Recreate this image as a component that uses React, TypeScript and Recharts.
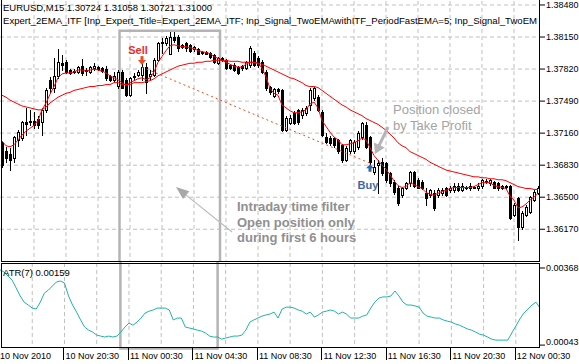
import React from 'react';
import {
  ComposedChart,
  Bar,
  Line,
  XAxis,
  YAxis,
  CartesianGrid,
  ReferenceArea,
  ReferenceLine,
  ReferenceDot,
} from 'recharts';

// EURUSD M15 bars, 10 Nov 2010 16:30 -> 12 Nov 2010 02:00
const opens = [
  1.3706, 1.3698, 1.3695, 1.369, 1.3709, 1.3711, 1.3727, 1.3727, 1.3729, 1.3731,
  1.3727, 1.374, 1.3771, 1.3762, 1.3775, 1.3788, 1.3789, 1.3781, 1.378, 1.3779,
  1.3785, 1.3781, 1.3779, 1.3783, 1.3784, 1.3783, 1.3782, 1.3775, 1.3771, 1.3765,
  1.3779, 1.3771, 1.3755, 1.3774, 1.3776, 1.3776, 1.3784, 1.3775, 1.3776, 1.3791,
  1.3809, 1.3809, 1.3798, 1.3815, 1.3815, 1.3807, 1.3809, 1.3807, 1.3803, 1.3803,
  1.38, 1.38, 1.3799, 1.3796, 1.3788, 1.3793, 1.3791, 1.3786, 1.3786, 1.3784,
  1.3785, 1.3783, 1.3786, 1.3799, 1.3793, 1.3789, 1.3779, 1.3764, 1.3754, 1.3761,
  1.376, 1.3719, 1.3726, 1.3737, 1.374, 1.3735, 1.3737, 1.3745, 1.3752, 1.3753,
  1.3738, 1.3712, 1.3711, 1.3711, 1.3709, 1.3704, 1.3688, 1.3698, 1.3698, 1.3702,
  1.3712, 1.3724, 1.3712, 1.3676, 1.3683, 1.3686, 1.3685, 1.3675, 1.3666, 1.366,
  1.3652, 1.366, 1.3665, 1.3676, 1.3668, 1.3666, 1.3654, 1.3652, 1.3654, 1.3652,
  1.3654, 1.3659, 1.3657, 1.3657, 1.3662, 1.3657, 1.366, 1.3659, 1.366, 1.3659,
  1.3662, 1.3667, 1.3665, 1.3666, 1.3665, 1.3662, 1.3662, 1.3662, 1.3632, 1.3649,
  1.3619, 1.3632, 1.3635, 1.3647, 1.3654,
];
const highs = [
  1.3708, 1.3702, 1.3701, 1.3713, 1.3719, 1.3729, 1.3742, 1.374, 1.3738, 1.3734,
  1.3742, 1.3762, 1.3774, 1.3793, 1.3803, 1.3796, 1.3791, 1.3782, 1.3782, 1.3785,
  1.3792, 1.3783, 1.3785, 1.3788, 1.3785, 1.3784, 1.3785, 1.3776, 1.3779, 1.3781,
  1.3781, 1.3773, 1.3774, 1.3778, 1.3781, 1.3788, 1.3788, 1.3781, 1.3793, 1.381,
  1.3814, 1.3816, 1.382, 1.382, 1.3817, 1.3808, 1.381, 1.3808, 1.3806, 1.3804,
  1.3801, 1.3801, 1.38, 1.3797, 1.3794, 1.3794, 1.3792, 1.3787, 1.3788, 1.3785,
  1.3786, 1.379, 1.3806, 1.3801, 1.3795, 1.3791, 1.3781, 1.3765, 1.3763, 1.3762,
  1.3761, 1.3734, 1.3735, 1.3739, 1.3741, 1.3742, 1.3744, 1.3762, 1.3764, 1.3755,
  1.374, 1.3716, 1.3713, 1.3712, 1.371, 1.3705, 1.3703, 1.371, 1.3709, 1.3718,
  1.3727, 1.3727, 1.3713, 1.3688, 1.3688, 1.369, 1.3686, 1.3676, 1.3668, 1.3662,
  1.3661, 1.3666, 1.3677, 1.3677, 1.367, 1.3668, 1.3659, 1.3658, 1.3657, 1.3659,
  1.366, 1.3661, 1.3662, 1.3665, 1.3665, 1.3665, 1.3662, 1.3665, 1.3662, 1.3665,
  1.3669, 1.3669, 1.3669, 1.3667, 1.3666, 1.3663, 1.3663, 1.3663, 1.3644, 1.365,
  1.3636, 1.3642, 1.3651, 1.3657, 1.3662,
];
const lows = [
  1.3681, 1.3686, 1.3678, 1.3686, 1.3703, 1.3709, 1.3714, 1.3724, 1.3721, 1.3721,
  1.3714, 1.3738, 1.3758, 1.3758, 1.3773, 1.3781, 1.3778, 1.3777, 1.3778, 1.3778,
  1.3776, 1.3776, 1.3778, 1.3781, 1.3781, 1.3779, 1.3771, 1.377, 1.3769, 1.3763,
  1.3762, 1.3754, 1.3754, 1.3771, 1.3775, 1.3771, 1.3757, 1.3771, 1.3775, 1.379,
  1.3799, 1.3807, 1.3797, 1.381, 1.3801, 1.3804, 1.3801, 1.38, 1.3801, 1.3797,
  1.3798, 1.3797, 1.3793, 1.3788, 1.3787, 1.379, 1.3782, 1.3782, 1.378, 1.3777,
  1.3781, 1.3782, 1.3784, 1.3785, 1.3784, 1.3778, 1.376, 1.3756, 1.3753, 1.3757,
  1.3718, 1.3718, 1.3725, 1.3725, 1.3725, 1.3732, 1.3735, 1.374, 1.375, 1.3739,
  1.3713, 1.3706, 1.3704, 1.3702, 1.3696, 1.3686, 1.3687, 1.3696, 1.3696, 1.37,
  1.371, 1.3701, 1.3684, 1.3674, 1.3654, 1.3673, 1.3666, 1.3662, 1.3653, 1.3642,
  1.365, 1.3658, 1.3662, 1.3661, 1.3659, 1.3658, 1.3642, 1.365, 1.3637, 1.365,
  1.3652, 1.3651, 1.3655, 1.3655, 1.3656, 1.3656, 1.3658, 1.3657, 1.3659, 1.3657,
  1.366, 1.3665, 1.3663, 1.3659, 1.3657, 1.3658, 1.366, 1.3628, 1.3631, 1.3606,
  1.3617, 1.3631, 1.3634, 1.3646, 1.3653,
];
const closes = [
  1.3683, 1.369, 1.3688, 1.3712, 1.3717, 1.3727, 1.3725, 1.3728, 1.3724, 1.3724,
  1.374, 1.376, 1.3762, 1.3775, 1.3789, 1.3786, 1.3779, 1.3778, 1.3779, 1.3784,
  1.3778, 1.378, 1.3784, 1.3785, 1.3782, 1.378, 1.3773, 1.3771, 1.3775, 1.3779,
  1.3763, 1.3755, 1.3773, 1.3775, 1.3779, 1.3784, 1.3769, 1.3777, 1.3791, 1.3809,
  1.381, 1.3814, 1.3815, 1.3812, 1.3804, 1.3805, 1.3804, 1.3801, 1.3805, 1.3798,
  1.3799, 1.3798, 1.3794, 1.3789, 1.3793, 1.3791, 1.3783, 1.3783, 1.3781, 1.3778,
  1.3783, 1.3789, 1.3804, 1.3786, 1.3786, 1.3779, 1.3762, 1.3758, 1.3761, 1.3759,
  1.3719, 1.3732, 1.3732, 1.3726, 1.3727, 1.374, 1.3742, 1.376, 1.3762, 1.374,
  1.3714, 1.3707, 1.3706, 1.3704, 1.3698, 1.3688, 1.3701, 1.3709, 1.3707, 1.3716,
  1.3726, 1.3702, 1.3686, 1.3681, 1.3685, 1.3675, 1.3668, 1.3665, 1.3655, 1.3644,
  1.366, 1.3665, 1.3676, 1.3662, 1.366, 1.366, 1.3649, 1.3657, 1.3639, 1.3657,
  1.3657, 1.3652, 1.366, 1.3662, 1.3657, 1.3662, 1.3661, 1.3662, 1.3661, 1.3662,
  1.3668, 1.3666, 1.3668, 1.366, 1.3659, 1.3659, 1.3661, 1.3629, 1.3642, 1.3619,
  1.3634, 1.364, 1.365, 1.3655, 1.3659,
];
// fast EMA(5) and slow EMA
const emaFast = [
  1.3708, 1.3703, 1.3702, 1.3704, 1.3709, 1.3714, 1.3718, 1.3721, 1.3724, 1.3729,
  1.374, 1.3747, 1.3756, 1.3764, 1.3773, 1.3777, 1.3778, 1.3778, 1.3779, 1.3781,
  1.3781, 1.378, 1.3781, 1.3782, 1.3781, 1.378, 1.3778, 1.3775, 1.3773, 1.3771,
  1.3768, 1.3765, 1.3768, 1.377, 1.3772, 1.3773, 1.3771, 1.3773, 1.3779, 1.3789,
  1.3795, 1.3801, 1.3806, 1.3807, 1.3806, 1.3805, 1.3805, 1.3804, 1.3803, 1.3801,
  1.38, 1.3799, 1.3798, 1.3795, 1.3793, 1.3791, 1.3789, 1.3787, 1.3785, 1.3784,
  1.3784, 1.3787, 1.3789, 1.3789, 1.3788, 1.3783, 1.3774, 1.3762, 1.3757, 1.3755,
  1.3745, 1.3742, 1.3739, 1.3737, 1.3737, 1.3738, 1.374, 1.3746, 1.3748, 1.3742,
  1.3729, 1.3723, 1.3717, 1.3712, 1.3709, 1.3704, 1.3704, 1.3705, 1.3706, 1.3708,
  1.3711, 1.3709, 1.3701, 1.3693, 1.3688, 1.3683, 1.3679, 1.3673, 1.3667, 1.3662,
  1.366, 1.3661, 1.3665, 1.3663, 1.3661, 1.3659, 1.3655, 1.3653, 1.3652, 1.3654,
  1.3656, 1.3657, 1.3659, 1.366, 1.366, 1.366, 1.366, 1.366, 1.3661, 1.3663,
  1.3665, 1.3665, 1.3665, 1.3662, 1.3661, 1.366, 1.3659, 1.3651, 1.3647, 1.3639,
  1.364, 1.3643, 1.3647, 1.365, 1.3654,
];
const emaSlow = [
  1.3755, 1.3753, 1.375, 1.3748, 1.3746, 1.3744, 1.3743, 1.3742, 1.3741, 1.374,
  1.374, 1.3743, 1.3747, 1.375, 1.3753, 1.3755, 1.3757, 1.3758, 1.376, 1.3761,
  1.3762, 1.3763, 1.3764, 1.3764, 1.3765, 1.3765, 1.3766, 1.3766, 1.3768, 1.3768,
  1.3766, 1.3766, 1.3766, 1.3768, 1.3768, 1.3768, 1.3769, 1.377, 1.3772, 1.3775,
  1.3777, 1.3779, 1.3781, 1.3783, 1.3785, 1.3786, 1.3787, 1.3788, 1.3788, 1.3789,
  1.3789, 1.379, 1.379, 1.3791, 1.3791, 1.3791, 1.3791, 1.379, 1.379, 1.379,
  1.3789, 1.3789, 1.3789, 1.3789, 1.3788, 1.3787, 1.3785, 1.3783, 1.3781, 1.3779,
  1.3777, 1.3775, 1.3773, 1.3772, 1.377, 1.3768, 1.3765, 1.3764, 1.3764, 1.3763,
  1.376, 1.3757, 1.3754, 1.3751, 1.3748, 1.3745, 1.3743, 1.374, 1.3738, 1.3736,
  1.3734, 1.3731, 1.3729, 1.3727, 1.3725, 1.3722, 1.3719, 1.3715, 1.3711, 1.3706,
  1.3703, 1.3701, 1.3697, 1.3695, 1.3693, 1.3691, 1.3689, 1.3686, 1.3684, 1.3682,
  1.368, 1.3678, 1.3677, 1.3676, 1.3675, 1.3674, 1.3673, 1.3672, 1.3671, 1.3671,
  1.367, 1.367, 1.3669, 1.3669, 1.3668, 1.3668, 1.3667, 1.3665, 1.3663, 1.3661,
  1.366, 1.3659, 1.3659, 1.3658, 1.3658,
];
const atr = [
  0.0036, 0.00351, 0.00334, 0.00317, 0.00284, 0.0025, 0.00224, 0.00212, 0.00199, 0.00195,
  0.00224, 0.00262, 0.00275, 0.00292, 0.00309, 0.00313, 0.00305, 0.0025, 0.00212, 0.00182,
  0.00149, 0.00119, 0.00106, 0.00098, 0.00085, 0.00081, 0.00077, 0.00081, 0.00077, 0.00081,
  0.00098, 0.00119, 0.00136, 0.00127, 0.0014, 0.00157, 0.00178, 0.00186, 0.00191, 0.00199,
  0.00199, 0.00199, 0.00191, 0.00149, 0.00157, 0.00157, 0.00119, 0.00115, 0.00111, 0.00106,
  0.00102, 0.00094, 0.00081, 0.00077, 0.00077, 0.00068, 0.00073, 0.00077, 0.00081, 0.00081,
  0.00085, 0.00106, 0.0014, 0.00149, 0.00157, 0.00165, 0.0017, 0.00174, 0.00182, 0.00157,
  0.00195, 0.00203, 0.00203, 0.00199, 0.00191, 0.00186, 0.00174, 0.00182, 0.00161, 0.0017,
  0.00182, 0.00186, 0.00191, 0.00186, 0.00174, 0.00182, 0.00174, 0.00157, 0.00157, 0.00157,
  0.00165, 0.0017, 0.00199, 0.00224, 0.00241, 0.00246, 0.00246, 0.0025, 0.00271, 0.0025,
  0.00224, 0.00212, 0.00212, 0.00208, 0.00203, 0.00178, 0.00165, 0.00161, 0.00157, 0.00157,
  0.00149, 0.00144, 0.0014, 0.00132, 0.00127, 0.00119, 0.00111, 0.00106, 0.00098, 0.00089,
  0.00085, 0.00077, 0.00068, 0.00064, 0.00064, 0.00064, 0.00064, 0.00094, 0.00123, 0.00153,
  0.00178, 0.00195, 0.00212, 0.00224, 0.00199,
];

// the trade: sell entry and the take-profit buy
const sellBar = 35;
const sellPrice = 1.3784;
const buyBar = 92;
const buyPrice = 1.3685;

const priceTicks = [1.3848, 1.3815, 1.3782, 1.3749, 1.3716, 1.3683, 1.365, 1.3617];
const atrTicks = [0.00368, 0.00043];
const gridTicks = [8, 16, 24, 32, 40, 48, 56, 64, 72, 80, 88, 96, 104, 112, 120, 128];
const timeTicks = [0, 16, 32, 48, 64, 80, 96, 112, 128];
const timeLabels = [
  '10 Nov 2010',
  '10 Nov 20:30',
  '11 Nov 00:30',
  '11 Nov 04:30',
  '11 Nov 08:30',
  '11 Nov 12:30',
  '11 Nov 16:30',
  '11 Nov 20:30',
  '12 Nov 00:30',
];

const FONT = '"Liberation Sans", Arial, sans-serif';
const BOX = '#b4b4b4';

const data = opens.map((o, i) => ({
  i,
  o,
  h: highs[i],
  l: lows[i],
  c: closes[i],
  fast: emaFast[i],
  slow: emaSlow[i],
  atr: atr[i],
  trade: i === sellBar ? sellPrice : i === buyBar ? buyPrice : null,
}));

const Candle = (props: any) => {
  const { x, y, width, height, payload } = props;
  const { o, h, l, c } = payload;
  const ratio = h === l ? 0 : height / (h - l);
  const toY = (p: number) => y + (h - p) * ratio;
  const cx = Math.floor(x + width / 2 + 0.01);
  const yH = Math.round(toY(h));
  const yL = Math.round(toY(l));
  const yTop = Math.round(toY(Math.max(o, c)));
  const yBot = Math.round(toY(Math.min(o, c)));
  const up = c >= o;
  return (
    <g>
      <line x1={cx + 0.5} x2={cx + 0.5} y1={yH} y2={yL + 1} stroke="#000" strokeWidth={1} />
      {up ? (
        <rect x={cx - 0.5} y={yTop + 0.5} width={2} height={Math.max(yBot - yTop, 0)} fill="#fff" stroke="#000" strokeWidth={1} />
      ) : (
        <rect x={cx - 1} y={yTop} width={3} height={Math.max(yBot - yTop + 1, 1)} fill="#000" />
      )}
    </g>
  );
};

// time filter box, upper part (main window) and lower part (ATR window)
const BoxTop = (p: any) => (
  <path d={`M${p.x - 0.5},${p.y + p.height + 3} V${p.y} H${p.x + p.width} V${p.y + p.height + 3}`} fill="none" stroke={BOX} strokeWidth={2.5} />
);
const BoxBottom = (p: any) => (
  <path d={`M${p.x - 0.5},${p.y - 3} V${p.y + p.height + 1.5} H${p.x + p.width} V${p.y - 3}`} fill="none" stroke={BOX} strokeWidth={2.5} />
);

const arrowShape =
  (w: number, head: number, half: number, color: string, headColor: string, d1: number, d2: number) => (props: any) => {
    const x1 = props.x1 + d1;
    const x2 = props.x2 + d2;
    const { y1, y2 } = props;
    const dx = x2 - x1;
    const dy = y2 - y1;
    const len = Math.hypot(dx, dy) || 1;
    const ux = dx / len;
    const uy = dy / len;
    const bx = x2 - ux * head;
    const by = y2 - uy * head;
    const px = -uy * half;
    const py = ux * half;
    return (
      <g>
        <line x1={x1} y1={y1} x2={bx + ux * 2} y2={by + uy * 2} stroke={color} strokeWidth={w} />
        <polygon points={`${x2},${y2} ${bx + px},${by + py} ${bx - px},${by - py}`} fill={headColor} />
      </g>
    );
  };

const noteShape = (lines: string[], bold: boolean, color: string, lh: number, dx: number) => (props: any) => (
  <text fontSize={13} fontWeight={bold ? 'bold' : 'normal'} fill={color} fontFamily={FONT}>
    {lines.map((t, k) => (
      <tspan key={k} x={props.cx + dx} y={props.cy + k * lh}>
        {t}
      </tspan>
    ))}
  </text>
);

const SellMark = ({ cx, cy }: any) => (
  <g>
    <rect x={cx - 1.5} y={cy - 11} width={3} height={4.5} fill="#ef4a22" />
    <polygon points={`${cx - 4},${cy - 7} ${cx + 4},${cy - 7} ${cx},${cy - 2}`} fill="#ef4a22" />
    <text x={cx - 4} y={cy - 13} textAnchor="middle" fontSize={11} fontWeight="bold" fill="#ee2b2b" fontFamily={FONT}>
      Sell
    </text>
  </g>
);

const BuyMark = ({ cx, cy }: any) => (
  <g>
    <polygon points={`${cx},${cy + 1} ${cx - 4},${cy + 5} ${cx + 4},${cy + 5}`} fill="#2e64b0" />
    <rect x={cx - 1.5} y={cy + 4.5} width={3} height={4} fill="#2e64b0" />
    <text x={cx - 2} y={cy + 26} textAnchor="middle" fontSize={11} fontWeight="bold" fill="#3a6aa6" fontFamily={FONT}>
      Buy
    </text>
  </g>
);

const TimeTick = (props: any) => {
  const { x, y, payload } = props;
  const k = timeTicks.indexOf(payload.value);
  if (k < 0) return <g />;
  return (
    <g>
      {k > 0 && <line x1={Math.round(x) - 0.5} x2={Math.round(x) - 0.5} y1={y} y2={y + 13} stroke="#000" />}
      <text x={k > 0 ? x + 1 : x} y={y + 12} fontSize={9} fontFamily={FONT} fill="#000">
        {timeLabels[k]}
      </text>
    </g>
  );
};

const AtrTick = (props: any) => {
  const { x, y, payload } = props;
  const bottom = payload.value < 0.001;
  return (
    <text x={x} y={bottom ? y : y + 3} fontSize={9} fontFamily={FONT} fill="#000">
      {payload.value.toFixed(5)}
    </text>
  );
};

const frame: React.CSSProperties = {
  position: 'absolute',
  boxSizing: 'border-box',
  pointerEvents: 'none',
};

export default function App() {
  return (
    <div style={{ position: 'absolute', left: 0, top: 0, width: 579, height: 364, background: '#fff', overflow: 'hidden' }}>
      <div style={{ position: 'absolute', left: 0, top: 0 }}>
        <ComposedChart width={579} height={262} data={data} margin={{ top: 1, right: 0, bottom: 1, left: 0 }} barCategoryGap={0} barGap={0}>
          <CartesianGrid stroke="#c0c0c0" strokeDasharray="4 3" verticalValues={gridTicks} horizontalValues={priceTicks} />
          <XAxis dataKey="i" type="category" ticks={gridTicks} interval={0} hide />
          <YAxis
            orientation="right"
            domain={[1.35843, 1.38521]}
            ticks={priceTicks}
            interval={0}
            width={39}
            axisLine={false}
            tickLine={{ stroke: '#000' }}
            tickSize={5}
            tickMargin={1}
            tick={{ fill: '#000', fontSize: 9, fontFamily: FONT }}
            tickFormatter={(v: number) => v.toFixed(5)}
            allowDataOverflow
          />
          <ReferenceArea x1={30} x2={54} y1={1.38215} shape={BoxTop} ifOverflow="visible" />
          <Bar dataKey={(d: any) => [d.l, d.h]} shape={Candle} isAnimationActive={false} />
          <Line type="linear" dataKey="slow" stroke="#ff0000" strokeWidth={1} dot={false} isAnimationActive={false} />
          <Line type="linear" dataKey="fast" stroke="#ff0000" strokeWidth={1} dot={false} isAnimationActive={false} />
          <Line type="linear" dataKey="trade" stroke="#ef4a22" strokeWidth={1} strokeDasharray="2 3" connectNulls dot={false} isAnimationActive={false} />
          <ReferenceLine
            segment={[{ x: 58, y: 1.36142 }, { x: 44, y: 1.36605 }]}
            shape={arrowShape(1.2, 13, 5, '#bcbcbc', '#a8a8a8', -2, -2)}
          />
          <ReferenceLine
            segment={[{ x: 97, y: 1.37223 }, { x: 93, y: 1.36945 }]}
            shape={arrowShape(3, 10, 6, BOX, BOX, -2, 1)}
          />
          <ReferenceDot x={sellBar} y={sellPrice} shape={SellMark} />
          <ReferenceDot x={buyBar} y={buyPrice} shape={BuyMark} />
          <ReferenceDot x={98} y={1.37352} shape={noteShape(['Position closed', 'by Take Profit'], false, '#a4a4a4', 16, -1)} />
          <ReferenceDot
            x={59}
            y={1.36353}
            shape={noteShape(['Intraday time filter', 'Open position only', 'during first 6 hours'], true, '#909090', 15.5, -1)}
          />
        </ComposedChart>
      </div>
      <div style={{ position: 'absolute', left: 0, top: 262 }}>
        <ComposedChart width={579} height={102} data={data} margin={{ top: 1, right: 0, bottom: 0, left: 0 }}>
          <CartesianGrid stroke="#c0c0c0" strokeDasharray="4 3" horizontal={false} verticalValues={gridTicks} />
          <XAxis
            dataKey="i"
            type="category"
            ticks={[0, ...gridTicks]}
            interval={0}
            height={17}
            axisLine={false}
            tickLine={false}
            tickSize={0}
            tickMargin={0}
            tick={TimeTick}
          />
          <YAxis
            orientation="right"
            domain={[0.00035, 0.00389]}
            ticks={atrTicks}
            interval={0}
            width={39}
            axisLine={false}
            tickLine={{ stroke: '#000' }}
            tickSize={5}
            tickMargin={1}
            tick={AtrTick}
            allowDataOverflow
          />
          <ReferenceArea x1={30} x2={54} shape={BoxBottom} ifOverflow="visible" />
          <Line type="linear" dataKey="atr" stroke="#20b2aa" strokeWidth={1} dot={false} isAnimationActive={false} />
        </ComposedChart>
      </div>
      <div style={{ ...frame, left: 1, top: 0, width: 539, height: 262, borderLeft: '1px solid #000', borderRight: '1px solid #000', borderBottom: '1px solid #000' }} />
      <div style={{ ...frame, left: 1, top: 263, width: 539, height: 85, border: '1px solid #000' }} />
      <svg width={579} height={364} style={{ position: 'absolute', left: 0, top: 0, pointerEvents: 'none' }}>
        <g fontFamily={FONT} fontSize={9.5} fill="#000" style={{ whiteSpace: 'pre' }}>
          <text x={3} y={11} textLength={209} lengthAdjust="spacingAndGlyphs">
            EURUSD,M15  1.30724 1.31058 1.30721 1.31000
          </text>
          <text x={3} y={24} textLength={534} lengthAdjust="spacingAndGlyphs">
            Expert_2EMA_ITF [Inp_Expert_Title=Expert_2EMA_ITF; Inp_Signal_TwoEMAwithITF_PeriodFastEMA=5; Inp_Signal_TwoEM
          </text>
          <text x={3} y={275.5}>ATR(7) 0.00159</text>
        </g>
      </svg>
    </div>
  );
}
